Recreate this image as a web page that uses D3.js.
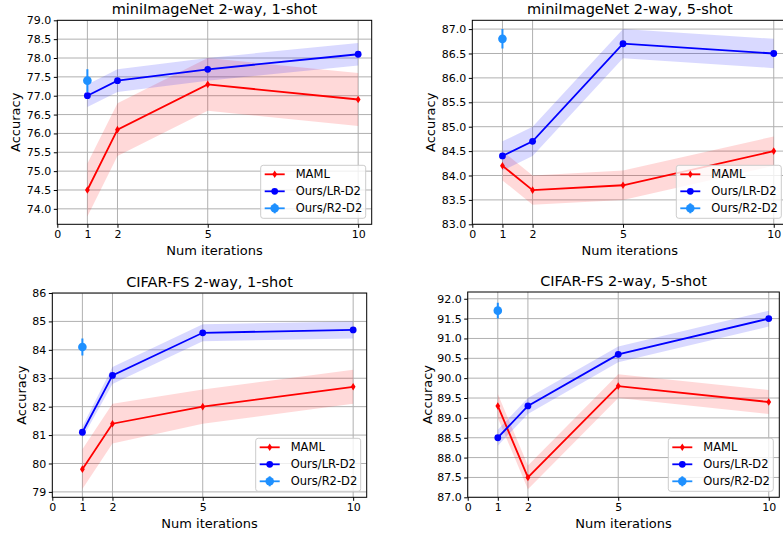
<!DOCTYPE html>
<html><head><meta charset="utf-8">
<script src="https://cdnjs.cloudflare.com/ajax/libs/d3/7.8.5/d3.min.js"></script>
<style>
html,body{margin:0;padding:0;background:#fff;}
svg{display:block;font-family:"DejaVu Sans",sans-serif;}
</style></head>
<body><svg id="chart" width="783" height="535"></svg>
<script>
// ---------------- data ----------------
const iterations = [1, 2, 5, 10];
const xTickValues = [0, 1, 2, 5, 10];
const panelTitles = ["miniImageNet 2-way, 1-shot", "miniImageNet 2-way, 5-shot", "CIFAR-FS 2-way, 1-shot", "CIFAR-FS 2-way, 5-shot"];
const seriesNames = ["MAML", "Ours/LR-D2", "Ours/R2-D2"];

const mamlMean = [[74.5, 76.1, 77.3, 76.9], [84.2, 83.7, 83.8, 84.5], [79.8, 81.4, 82.0, 82.7], [89.3, 87.5, 89.8, 89.4]];
const mamlCI   = [[0.7, 0.7, 0.7, 0.7], [0.3, 0.3, 0.3, 0.3], [0.7, 0.7, 0.6, 0.6], [0.3, 0.3, 0.3, 0.3]];
const lrMean   = [[77.0, 77.4, 77.7, 78.1], [84.4, 84.7, 86.7, 86.5], [81.1, 83.1, 84.6, 84.7], [88.5, 89.3, 90.6, 91.5]];
const lrCI     = [[0.3, 0.3, 0.3, 0.3], [0.3, 0.3, 0.3, 0.3], [0.2, 0.3, 0.3, 0.3], [0.2, 0.2, 0.2, 0.2]];
const r2Mean   = [77.4, 86.8, 84.1, 91.7];
const r2CI     = [0.3, 0.2, 0.3, 0.2];

const yTickValues = [
  [74.0, 74.5, 75.0, 75.5, 76.0, 76.5, 77.0, 77.5, 78.0, 78.5, 79.0],
  [83.0, 83.5, 84.0, 84.5, 85.0, 85.5, 86.0, 86.5, 87.0],
  [79, 80, 81, 82, 83, 84, 85, 86],
  [87.0, 87.5, 88.0, 88.5, 89.0, 89.5, 90.0, 90.5, 91.0, 91.5, 92.0]
];
const yFormats = [".1f", ".1f", "d", ".1f"];
const yDomains = [[73.59, 79.0], [83.0, 87.18], [78.81, 86.0], [87.0, 92.17]];
const xDomains = [[0, 10.45], [0, 10.45], [0, 10.45], [0, 10.35]];

// ---------------- layout ----------------
const frames = [
  {l: 57.3, t: 20.3, r: 371.7, b: 224.3, ylabX: 15},
  {l: 472.3, t: 20.3, r: 787.3, b: 224.3, ylabX: 430},
  {l: 52.3, t: 293, r: 366.7, b: 497.3, ylabX: 21},
  {l: 467.7, t: 292, r: 779.3, b: 497.3, ylabX: 427}
];
const RED = "#ff0000", BLUE = "#0000ff", DBLUE = "#1e90ff";

const svg = d3.select("#chart");

function diamond(g, x, y, color) {
  g.append("path")
    .attr("d", `M${x},${y-3.8}L${x+2.4},${y}L${x},${y+3.8}L${x-2.4},${y}Z`)
    .attr("fill", color);
}

frames.forEach((f, i) => {
  const x = d3.scaleLinear().domain(xDomains[i]).range([f.l, f.r]);
  const y = d3.scaleLinear().domain(yDomains[i]).range([f.b, f.t]);
  const g = svg.append("g");
  const clipId = "clip" + i;
  g.append("clipPath").attr("id", clipId).append("rect")
    .attr("x", f.l).attr("y", f.t).attr("width", f.r - f.l).attr("height", f.b - f.t);
  const plot = g.append("g").attr("clip-path", `url(#${clipId})`);

  // grid
  plot.selectAll(".gx").data(xTickValues).enter().append("line")
    .attr("x1", d => x(d)).attr("x2", d => x(d)).attr("y1", f.t).attr("y2", f.b)
    .attr("stroke", "#b0b0b0").attr("stroke-width", 1);
  plot.selectAll(".gy").data(yTickValues[i]).enter().append("line")
    .attr("x1", f.l).attr("x2", f.r).attr("y1", d => y(d)).attr("y2", d => y(d))
    .attr("stroke", "#b0b0b0").attr("stroke-width", 1);

  const mRows = iterations.map((it, k) => ({x: it, m: mamlMean[i][k], c: mamlCI[i][k]}));
  const lRows = iterations.map((it, k) => ({x: it, m: lrMean[i][k], c: lrCI[i][k]}));
  const area = d3.area().x(d => x(d.x)).y0(d => y(d.m - d.c)).y1(d => y(d.m + d.c));
  const line = d3.line().x(d => x(d.x)).y(d => y(d.m));

  plot.append("path").datum(mRows).attr("d", area).attr("fill", RED).attr("fill-opacity", 0.15);
  plot.append("path").datum(lRows).attr("d", area).attr("fill", BLUE).attr("fill-opacity", 0.15);

  plot.append("path").datum(mRows).attr("d", line).attr("fill", "none").attr("stroke", RED).attr("stroke-width", 1.8);
  mRows.forEach(d => diamond(plot, x(d.x), y(d.m), RED));

  plot.append("path").datum(lRows).attr("d", line).attr("fill", "none").attr("stroke", BLUE).attr("stroke-width", 1.8);
  plot.selectAll(".lp").data(lRows).enter().append("circle")
    .attr("cx", d => x(d.x)).attr("cy", d => y(d.m)).attr("r", 3.4).attr("fill", BLUE);

  // R2-D2 error bar
  plot.append("line").attr("x1", x(1)).attr("x2", x(1))
    .attr("y1", y(r2Mean[i] - r2CI[i])).attr("y2", y(r2Mean[i] + r2CI[i]))
    .attr("stroke", DBLUE).attr("stroke-width", 2);
  plot.append("circle").attr("cx", x(1)).attr("cy", y(r2Mean[i])).attr("r", 4.3).attr("fill", DBLUE);

  // axes
  const xAxis = d3.axisBottom(x).tickValues(xTickValues).tickSize(3.5).tickPadding(2.5).tickFormat(d3.format("d"));
  const yAxis = d3.axisLeft(y).tickValues(yTickValues[i]).tickSize(3.5).tickPadding(2.5).tickFormat(d3.format(yFormats[i]));
  const gx = g.append("g").attr("transform", `translate(0,${f.b})`).call(xAxis);
  const gy = g.append("g").attr("transform", `translate(${f.l},0)`).call(yAxis);
  [gx, gy].forEach(a => {
    a.select(".domain").remove();
    a.selectAll("line").attr("stroke", "#000").attr("stroke-width", 1);
    a.selectAll("text").attr("font-size", 11).attr("fill", "#000").attr("font-family", "DejaVu Sans");
  });

  // spines
  g.append("rect").attr("x", f.l).attr("y", f.t).attr("width", f.r - f.l).attr("height", f.b - f.t)
    .attr("fill", "none").attr("stroke", "#000").attr("stroke-width", 1);

  // title and labels
  g.append("text").attr("x", (f.l + f.r) / 2).attr("y", f.t - 6).attr("text-anchor", "middle")
    .attr("font-size", 14.5).attr("fill", "#000").text(panelTitles[i]);
  g.append("text").attr("x", (f.l + f.r) / 2).attr("y", f.b + 31).attr("text-anchor", "middle")
    .attr("font-size", 13).attr("fill", "#000").text("Num iterations");
  g.append("text").attr("transform", `translate(${f.ylabX},${(f.t + f.b) / 2}) rotate(-90)`)
    .attr("text-anchor", "middle").attr("dominant-baseline", "central")
    .attr("font-size", 13).attr("fill", "#000").text("Accuracy");

  // legend
  const lw = 105, lh = 53;
  const lx = f.r - 6 - lw, ly = f.b - 6 - lh;
  const lg = g.append("g").attr("transform", `translate(${lx},${ly})`);
  lg.append("rect").attr("width", lw).attr("height", lh).attr("rx", 2.5)
    .attr("fill", "#fff").attr("fill-opacity", 0.8).attr("stroke", "#cccccc").attr("stroke-width", 1);
  const colors = [RED, BLUE, DBLUE];
  seriesNames.forEach((name, k) => {
    const yy = 9 + k * 17;
    lg.append("line").attr("x1", 4).attr("x2", 24).attr("y1", yy).attr("y2", yy)
      .attr("stroke", colors[k]).attr("stroke-width", 1.8);
    if (k === 0) diamond(lg, 14, yy, RED);
    if (k === 1) lg.append("circle").attr("cx", 14).attr("cy", yy).attr("r", 3.4).attr("fill", BLUE);
    if (k === 2) {
      lg.append("line").attr("x1", 14).attr("x2", 14).attr("y1", yy - 5).attr("y2", yy + 5)
        .attr("stroke", DBLUE).attr("stroke-width", 2);
      lg.append("circle").attr("cx", 14).attr("cy", yy).attr("r", 4.3).attr("fill", DBLUE);
    }
    lg.append("text").attr("x", 35).attr("y", yy).attr("dominant-baseline", "central")
      .attr("font-size", 11.5).attr("fill", "#000").text(name);
  });
});
</script></body></html>
